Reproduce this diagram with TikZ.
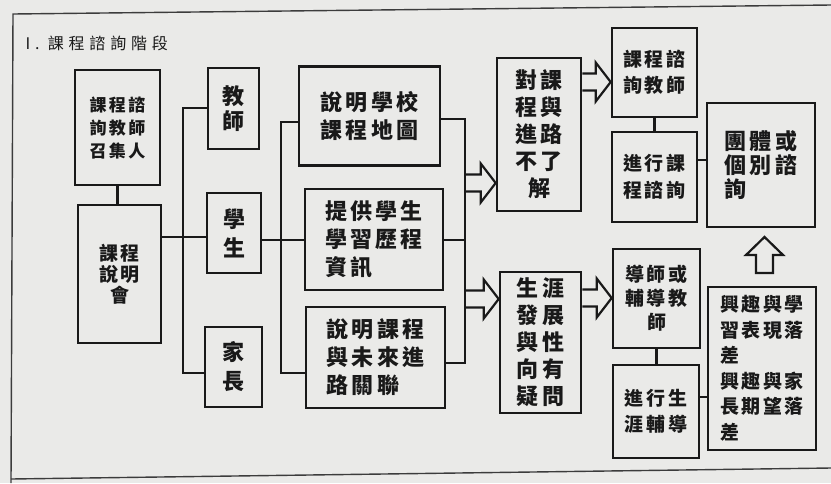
\documentclass[tikz,border=0pt]{standalone}
\usepackage{fontspec}
\newfontfamily\cjk[LetterSpace=14]{Noto Sans CJK TC}
\usetikzlibrary{calc}
\definecolor{paper}{RGB}{234,234,232}
\definecolor{ink}{RGB}{25,25,25}
\newcommand\fs[2]{\cjk\bfseries\fontsize{#1}{#2}\selectfont}
\newcommand\RArrow[3]{%
  \draw[barrow] ($(#1)+(0,-8.5)$) -- ($(#2)+(-#3,-8.5)$) -- ($(#2)+(-#3,-19.5)$) -- (#2)
    -- ($(#2)+(-#3,19.5)$) -- ($(#2)+(-#3,8.5)$) -- ($(#1)+(0,8.5)$);}
\tikzset{
  box/.style={draw=ink, line width=2.6pt, inner sep=0pt, text=ink},
  conn/.style={draw=ink, line width=2.2pt},
  barrow/.style={draw=ink, line width=2.2pt, line join=miter},
  frameline/.style={draw=ink!85, line width=1.4pt}
}
\begin{document}
\begin{tikzpicture}[x=1pt,y=-1pt]
\useasboundingbox (0,0) rectangle (831,483);
\fill[paper] (0,0) rectangle (831,483);
% outer frame
\draw[frameline] (831,5) -- (13,14) -- (11,483);
\draw[frameline] (11,479) -- (831,468);
% title
\node[anchor=west, text=ink, font=\cjk\fontsize{16}{20}\selectfont\addfontfeatures{LetterSpace=30}] (title) at (22,43) {I. 課程諮詢階段};

% boxes
\node[box, minimum width=85pt, minimum height=115pt, align=center, font=\fs{17}{23}] (b1) at (117.5,127.5) {課程諮\\詢教師\\召集人};
\node[box, minimum width=83pt, minimum height=138pt, align=center, font=\fs{19}{21}] (b2) at (119.5,274) {課程\\說明\\會};
\node[box, minimum width=51pt, minimum height=81pt, align=center, font=\fs{22}{25}] (teacher) at (233.5,108.5) {教\\師};
\node[box, minimum width=54pt, minimum height=80pt, align=center, font=\fs{22}{29}] (student) at (234,233) {學\\生};
\node[box, minimum width=57pt, minimum height=80pt, align=center, font=\fs{22}{29}] (parent) at (233.5,367) {家\\長};

\node[box, minimum width=141pt, minimum height=99pt, align=left, font=\fs{22}{28}] (b6) at (369.5,116) {說明學校\\課程地圖};
\node[box, minimum width=138pt, minimum height=101pt, align=left, font=\fs{22}{28}] (b7) at (374,239.5) {提供學生\\學習歷程\\資訊};
\node[box, minimum width=139pt, minimum height=101pt, align=left, font=\fs{22}{28}] (b8) at (375.5,357.5) {說明課程\\與未來進\\路關聯};

\node[box, minimum width=84pt, minimum height=153pt, align=center, font=\fs{22}{27}] (b9) at (539,134.5) {對課\\程與\\進路\\不了\\解};
\node[box, minimum width=81pt, minimum height=141pt, align=center, font=\fs{22}{27}] (b10) at (540.5,342.5) {生涯\\發展\\與性\\向有\\疑問};

\node[box, minimum width=85pt, minimum height=89pt, align=center, font=\fs{19}{26}] (b11) at (654.5,72.5) {課程諮\\詢教師};
\node[box, minimum width=85pt, minimum height=90pt, align=center, font=\fs{19}{27}] (b12) at (654.5,177) {進行課\\程諮詢};
\node[box, minimum width=87pt, minimum height=99pt, align=center, font=\fs{19}{24}] (b13) at (656.5,298.5) {導師或\\輔導教\\師};
\node[box, minimum width=86pt, minimum height=93pt, align=center, font=\fs{19}{26}] (b14) at (656,411.5) {進行生\\涯輔導};

\node[box, minimum width=108pt, minimum height=124pt, align=left, font=\fs{22}{24}] (b15) at (761,165) {團體或\\個別諮\\詢};
\node[box, minimum width=108pt, minimum height=163pt, align=left, font=\fs{19}{25.5}] (b16) at (762,368.5) {興趣與學\\習表現落\\差\\興趣與家\\長期望落\\差};

% helper coordinates
\coordinate (brA) at (183,0);
\coordinate (brB) at (281,0);
\coordinate (bus) at (465,0);
\coordinate (y108) at (0,108);
\coordinate (y122) at (0,122);
\coordinate (y119) at (0,119);
\coordinate (y237) at (0,237);
\coordinate (y240) at (0,240);
\coordinate (y363) at (0,363);
\coordinate (y373) at (0,373);
\coordinate (y160) at (0,160);
\coordinate (y397) at (0,397);

% connectors
\draw[conn] (b1.south) -- (b1.south |- b2.north);
\draw[conn] (b2.east |- y237) -- (student.west |- y237);
\draw[conn] (teacher.west |- y108) -- (brA |- y108) -- (brA |- y373) -- (parent.west |- y373);
\draw[conn] (student.east |- y240) -- (brB |- y240);
\draw[conn] (b6.west |- y122) -- (brB |- y122) -- (brB |- y373) -- (b8.west |- y373);
\draw[conn] (brB |- y240) -- (b7.west |- y240);
\draw[conn] (b6.east |- y119) -- (bus |- y119) -- (bus |- y363) -- (b8.east |- y363);
\draw[conn] (b7.east |- y240) -- (bus |- y240);
\draw[conn] (b11.south) -- (b11.south |- b12.north);
\draw[conn] (b13.south) -- (b13.south |- b14.north);
\draw[conn] (b12.east |- y160) -- (b15.west |- y160);
\draw[conn] (b14.east |- y397) -- (b16.west |- y397);

% block arrows
\coordinate (ya1) at (0,183);
\coordinate (ya2) at (0,299);
\coordinate (ya3) at (0,82);
\coordinate (ya4) at (0,298);
\coordinate (s1) at (bus |- ya1);  \coordinate (t1) at (b9.west |- ya1);
\coordinate (s2) at (bus |- ya2);  \coordinate (t2) at (b10.west |- ya2);
\coordinate (s3) at (b9.east |- ya3);  \coordinate (t3) at (b11.west |- ya3);
\coordinate (s4) at (b10.east |- ya4); \coordinate (t4) at (b13.west |- ya4);
\RArrow{s1}{t1}{15}
\RArrow{s2}{t2}{15}
\RArrow{s3}{t3}{15}
\RArrow{s4}{t4}{15}
\draw[barrow] (756,273) -- (756,255) -- (746,255) -- (764.5,237) -- (783,255) -- (773,255) -- (773,273) -- cycle;
\end{tikzpicture}
\end{document}
